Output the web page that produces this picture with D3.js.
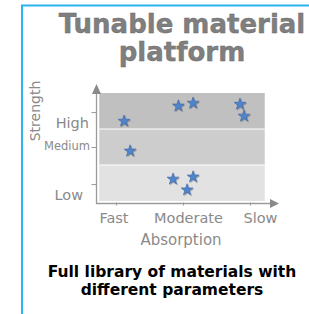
<!DOCTYPE html>
<html><head><meta charset="utf-8">
<script src="https://cdn.jsdelivr.net/npm/d3@7/dist/d3.min.js"></script>
<style>body{margin:0;background:#fff}svg{display:block}</style>
</head><body>
<svg id="c" width="309" height="314"></svg>
<script>
// ---- data ----
const titleLines = ["Tunable material", "platform"];
const captionLines = ["Full library of materials with", "different parameters"];
const xTickLabels = ["Fast", "Moderate", "Slow"];
const xTickValues = [0, 1, 2];
const yTickLabels = ["Low", "Medium", "High"];
const yTickValues = [0.47, 1.5, 2.47];
const bands = [ {name:"Low", from:0, to:1}, {name:"Medium", from:1, to:2}, {name:"High", from:2, to:3} ];
const materialsAbsorption = [0.12, 0.21, 0.93, 1.15, 1.85, 1.91, 0.85, 1.15, 1.06];
const materialsStrength   = [2.22, 1.39, 2.64, 2.72, 2.69, 2.36, 0.61, 0.67, 0.31];
const xAxisTitle = "Absorption";
const yAxisTitle = "Strength";

// ---- layout ----
const svg = d3.select("#c");
const x = d3.scaleLinear().domain([0, 2]).range([116, 250]);
const y = d3.scaleLinear().domain([0, 3]).range([201, 93]);
const bandColors = {Low:"#e2e2e2", Medium:"#cdcdcd", High:"#c0c0c0"};
const grey = "#8a8a8a";

// frame
svg.append("path").attr("d","M22,314 V5.5 H309").attr("fill","none")
  .attr("stroke","#29b4ef").attr("stroke-width",2);

// defs
const defs = svg.append("defs");
const f = defs.append("filter").attr("id","sh").attr("x","-50%").attr("y","-50%").attr("width","200%").attr("height","200%");
f.append("feDropShadow").attr("dx",0.8).attr("dy",0.8).attr("stdDeviation",0.6).attr("flood-color","#000").attr("flood-opacity",0.35);

// title
svg.append("g").selectAll("text").data(titleLines).join("text")
  .attr("x",182).attr("y",(d,i)=>33+i*28)
  .attr("text-anchor","middle")
  .attr("font-family","DejaVu Sans").attr("font-weight","bold").attr("font-size",26)
  .attr("fill","#7f7f7f").attr("stroke","#6a6a6a").attr("stroke-width",0.4)
  .text(d=>d);

// bands
svg.append("g").selectAll("rect").data(bands).join("rect")
  .attr("x", x(-0.25)).attr("width", x(2.22)-x(-0.25))
  .attr("y", d=>y(d.to)).attr("height", d=>y(d.from)-y(d.to))
  .attr("fill", d=>bandColors[d.name]);
svg.append("g").selectAll("line").data([1,2]).join("line")
  .attr("x1",x(-0.25)).attr("x2",x(2.22)).attr("y1",d=>y(d)).attr("y2",d=>y(d))
  .attr("stroke","#fff").attr("stroke-width",1.2);

// axes
const xAxis = d3.axisBottom(x).tickValues(xTickValues).tickFormat("").tickSize(-3).tickSizeOuter(0);
const gx = svg.append("g").attr("transform","translate(0,203.5)").call(xAxis);
gx.select(".domain").remove();
gx.selectAll(".tick line").attr("stroke","#9a9a9a").attr("transform","translate(0,2)");
svg.append("line").attr("x1",96).attr("x2",272).attr("y1",203.5).attr("y2",203.5).attr("stroke","#9a9a9a").attr("stroke-width",1.3);
svg.append("path").attr("d","M270,199 L279,203.5 L270,208 Z").attr("fill","#8a8a8a");

const yAxis = d3.axisLeft(y).tickValues(yTickValues).tickFormat("").tickSize(5).tickSizeOuter(0);
const gy = svg.append("g").attr("transform","translate(96.5,0)").call(yAxis);
gy.select(".domain").remove();
gy.selectAll(".tick line").attr("stroke","#9a9a9a");
svg.append("line").attr("x1",96.5).attr("x2",96.5).attr("y1",92).attr("y2",203.5).attr("stroke","#9a9a9a").attr("stroke-width",1.3);
svg.append("path").attr("d","M92,94 L96.5,84 L101,94 Z").attr("fill","#8a8a8a");

// tick labels
const xLabelDx = [-2, 5.5, 10.5];
svg.append("g").selectAll("text").data(xTickLabels).join("text")
  .attr("x",(d,i)=>x(xTickValues[i])+xLabelDx[i]).attr("y",223)
  .attr("text-anchor","middle").attr("font-family","DejaVu Sans").attr("font-size",14.5)
  .attr("fill",grey).text(d=>d);
const yLabelPos = [0.18, 1.53, 2.18];
const yLabelRight = [83, 90, 89];
svg.append("g").selectAll("text").data(yTickLabels).join("text")
  .attr("x",(d,i)=> yLabelRight[i]).attr("y",(d,i)=>y(yLabelPos[i]))
  .attr("dy","0.35em")
  .attr("text-anchor","end").attr("font-family","DejaVu Sans")
  .attr("font-size",(d,i)=> i===1 ? 11.5 : 14.5)
  .attr("fill",grey).text(d=>d);

// axis titles
svg.append("text").attr("x",181).attr("y",244.5).attr("text-anchor","middle")
  .attr("font-family","DejaVu Sans").attr("font-size",15).attr("fill",grey).text(xAxisTitle);
svg.append("text").attr("transform","translate(39.5,111) rotate(-90)").attr("text-anchor","middle")
  .attr("font-family","DejaVu Sans").attr("font-size",14).attr("fill",grey).text(yAxisTitle);

// stars
const star = d3.symbol().type(d3.symbolStar).size(42);
svg.append("g").selectAll("path").data(materialsAbsorption).join("path")
  .attr("transform",(d,i)=>`translate(${x(d)},${y(materialsStrength[i])})`)
  .attr("d",star).attr("fill","#5085cc").attr("stroke","#3a66a8").attr("stroke-width",0.6)
  .attr("filter","url(#sh)");

// caption
svg.append("g").selectAll("text").data(captionLines).join("text")
  .attr("x",172).attr("y",(d,i)=>277+i*18)
  .attr("text-anchor","middle").attr("font-family","DejaVu Sans").attr("font-weight","bold")
  .attr("font-size",15.5).attr("fill","#000").text(d=>d);
</script>
</body></html>
